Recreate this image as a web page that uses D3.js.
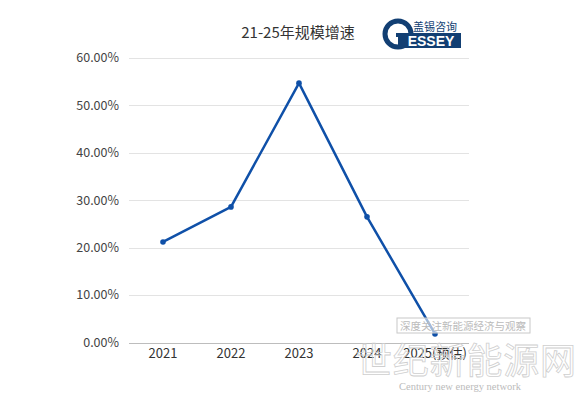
<!DOCTYPE html>
<html>
<head>
<meta charset="utf-8">
<script src="https://cdn.jsdelivr.net/npm/d3@7"></script>
<style>
  body { margin: 0; background: #fff; }
  svg { display: block; font-family: "Noto Sans CJK SC", "Open Sans", sans-serif; }
</style>
</head>
<body>
<div id="chart"></div>
<script>
const years = ['2021', '2022', '2023', '2024', '2025(预估)'];
const growth = [0.212, 0.286, 0.547, 0.265, 0.018];
const yTicks = [0, 0.1, 0.2, 0.3, 0.4, 0.5, 0.6];
const title = '21-25年规模增速';

const W = 581, H = 395;
const margin = { top: 58, right: 112, bottom: 53, left: 129 };

const svg = d3.select('#chart').append('svg')
    .attr('width', W).attr('height', H);

const x = d3.scaleBand()
    .domain(years)
    .range([margin.left, W - margin.right]);

const y = d3.scaleLinear()
    .domain([0, 0.6])
    .range([H - margin.bottom + 0.5, margin.top]);

// grid
svg.append('g')
    .selectAll('line')
    .data(yTicks.filter((d) => d > 0))
    .join('line')
    .attr('x1', margin.left).attr('x2', W - margin.right)
    .attr('y1', (d) => Math.round(y(d)) + 0.5).attr('y2', (d) => Math.round(y(d)) + 0.5)
    .attr('stroke', '#e3e3e3');

svg.append('line')
    .attr('x1', margin.left).attr('x2', W - margin.right)
    .attr('y1', Math.round(y(0)) + 0.5).attr('y2', Math.round(y(0)) + 0.5)
    .attr('stroke', '#bdbdbd');

// y labels
svg.append('g')
    .selectAll('text')
    .data(yTicks)
    .join('text')
    .attr('x', 119)
    .attr('y', (d) => y(d))
    .attr('dy', '0.35em')
    .attr('text-anchor', 'end')
    .attr('font-size', 12.5)
    .attr('fill', '#444')
    .text((d) => d3.format('.2f')(d * 100) + '%');

// x labels
svg.append('g')
    .selectAll('text')
    .data(years)
    .join('text')
    .attr('x', (d) => x(d) + x.bandwidth() / 2)
    .attr('y', 358)
    .attr('text-anchor', 'middle')
    .attr('font-size', 13)
    .attr('fill', '#333')
    .text((d) => d);

// line
const line = d3.line()
    .x((d, i) => x(years[i]) + x.bandwidth() / 2)
    .y((d) => y(d));

svg.append('path')
    .datum(growth)
    .attr('d', line)
    .attr('fill', 'none')
    .attr('stroke', '#0f50a8')
    .attr('stroke-width', 2.5)
    .attr('stroke-linejoin', 'round');

svg.append('g')
    .selectAll('circle')
    .data(growth)
    .join('circle')
    .attr('cx', (d, i) => x(years[i]) + x.bandwidth() / 2)
    .attr('cy', (d) => y(d))
    .attr('r', 2.8)
    .attr('fill', '#0f50a8');

// title
svg.append('text')
    .attr('x', 298).attr('y', 38)
    .attr('text-anchor', 'middle')
    .attr('font-size', 15)
    .attr('fill', '#333')
    .text(title);

// logo
const logo = svg.append('g');
logo.append('circle')
    .attr('cx', 398).attr('cy', 34).attr('r', 13)
    .attr('fill', '#fff').attr('stroke', '#123f73').attr('stroke-width', 5);
logo.append('rect')
    .attr('x', 398).attr('y', 33).attr('width', 63).attr('height', 15)
    .attr('fill', '#123f73');
logo.append('rect')
    .attr('x', 396).attr('y', 33).attr('width', 10).attr('height', 4)
    .attr('fill', '#123f73');
logo.append('text')
    .attr('x', 431).attr('y', 46)
    .attr('text-anchor', 'middle')
    .attr('font-family', 'Liberation Sans, Arial, sans-serif')
    .attr('font-weight', 'bold')
    .attr('font-size', 14)
    .attr('fill', '#fff')
    .text('ESSEY');
logo.append('text')
    .attr('x', 413).attr('y', 31)
    .attr('font-size', 11)
    .attr('fill', '#123f73')
    .text('盖锡咨询');

// watermarks
svg.append('rect')
    .attr('x', 397).attr('y', 318).attr('width', 133).attr('height', 15)
    .attr('fill', 'rgba(255,255,255,0.6)').attr('stroke', '#c8c8c8');
svg.append('text')
    .attr('x', 463).attr('y', 330)
    .attr('text-anchor', 'middle')
    .attr('font-size', 10.5)
    .attr('fill', '#bbb')
    .text('深度关注新能源经济与观察');
svg.append('text')
    .attr('x', 356).attr('y', 374)
    .attr('font-size', 36)
    .attr('textLength', 220)
    .attr('lengthAdjust', 'spacing')
    .attr('fill', 'none')
    .attr('stroke', '#cfcfcf')
    .attr('stroke-width', 0.8)
    .text('世纪新能源网');
svg.append('text')
    .attr('x', 460).attr('y', 390)
    .attr('text-anchor', 'middle')
    .attr('font-family', 'Liberation Serif, serif')
    .attr('font-size', 10.5)
    .attr('fill', '#bbb')
    .text('Century new energy network');
</script>
</body>
</html>
